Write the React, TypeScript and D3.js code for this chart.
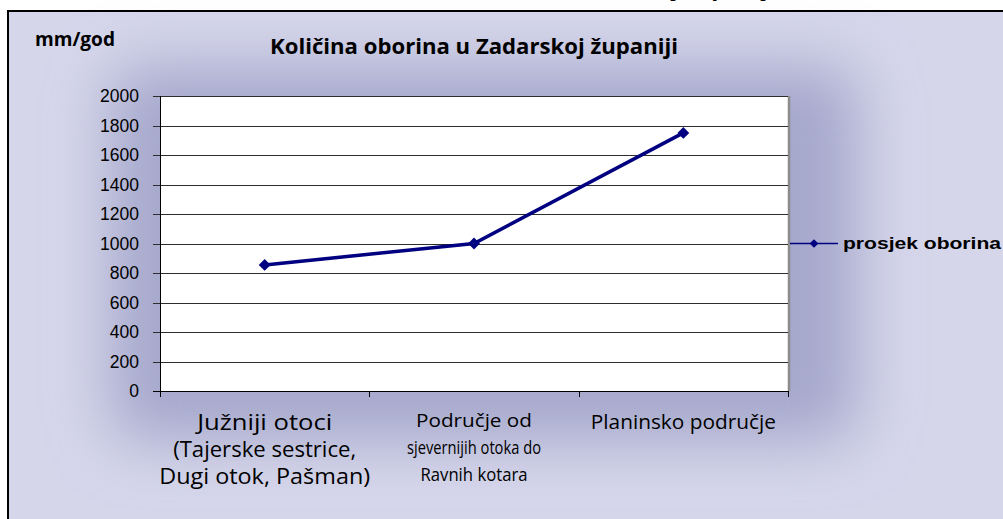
import React from 'react';
import * as d3 from 'd3';

// chart data
const categories = ['south', 'north', 'mountain'];
const categoryLines = [
  ['Južniji otoci', '(Tajerske sestrice,', 'Dugi otok, Pašman)'],
  ['Područje od', 'sjevernijih otoka do', 'Ravnih kotara'],
  ['Planinsko područje'],
];
const values = [855, 1000, 1750];
const yTicks = [0, 200, 400, 600, 800, 1000, 1200, 1400, 1600, 1800, 2000];
const seriesName = 'prosjek oborina';
const title = 'Količina oborina u Zadarskoj županiji';
const unitLabel = 'mm/god';

const W = 1003;
const H = 519;
const plot = {left: 160, right: 788, top: 96, bottom: 391};

// label widths and sizes per column
const labelStyle = [
  {size: 21, widths: [135, 183, 211], dy: 3},
  {size: 19, widths: [116, 134, 107], dy: 0},
  {size: 20, widths: [185], dy: 2},
];

export default function App() {
  const x = d3.scaleBand<string>().domain(categories).range([plot.left, plot.right]);
  const y = d3.scaleLinear().domain([0, 2000]).range([plot.bottom, plot.top]);
  const cx = (i: number) => (x(categories[i]) as number) + x.bandwidth() / 2;

  const line = d3.line<number>()
    .x((d, i) => cx(i))
    .y(d => y(d));

  const diamond = d3.symbol(d3.symbolSquare, 70)();
  const navy = '#000080';
  const calibri = '"Open Sans", sans-serif';

  return (
    <svg width={W} height={H} style={{position: 'absolute', left: 0, top: 0}}>
      <defs>
        <filter id="blur" x="-50%" y="-50%" width="200%" height="200%">
          <feGaussianBlur stdDeviation="30" />
        </filter>
      </defs>
      <rect x={0} y={0} width={W} height={H} fill="#fff" />
      <rect x={8} y={11} width={W} height={H} fill="#d5d6ea" />
      {/* shadow behind the plot */}
      <rect x={plot.left - 50} y={plot.top - 30} width={plot.right - plot.left + 120}
        height={plot.bottom - plot.top + 80} fill="#a6a8cc" filter="url(#blur)" rx={30} />
      <line x1={8} x2={W} y1={11} y2={11} stroke="#000" strokeWidth={2} />
      <line x1={8} x2={8} y1={10} y2={H} stroke="#000" strokeWidth={2} />

      {/* clipped title of the chart above */}
      <text x={776} y={-5} textAnchor="end" fontFamily={calibri} fontWeight="bold" fontSize={23}
        fill="#000">{title}</text>

      <text x={35} y={46} fontFamily={calibri} fontWeight="bold" fontSize={19}
        textLength={80} lengthAdjust="spacingAndGlyphs">{unitLabel}</text>
      <text x={270} y={54} fontFamily={calibri} fontWeight="bold" fontSize={21}
        textLength={408} lengthAdjust="spacingAndGlyphs">{title}</text>

      {/* plot area */}
      <rect x={plot.left} y={plot.top} width={plot.right - plot.left} height={plot.bottom - plot.top}
        fill="#fff" />
      <line x1={plot.right + 1} x2={plot.right + 1} y1={plot.top} y2={plot.bottom}
        stroke="#8c8c8c" strokeWidth={2.5} />
      {yTicks.map(t => (
        <g key={t}>
          <line x1={plot.left - 7} x2={plot.right} y1={Math.round(y(t)) + 0.5} y2={Math.round(y(t)) + 0.5}
            stroke={t === 0 ? '#000' : '#2e2e2e'} strokeWidth={1} />
          <text x={139} y={y(t)} dy="0.36em" textAnchor="end" fontFamily="'Liberation Sans', Arial, sans-serif"
            fontSize={17.5} fill="#000">{t}</text>
        </g>
      ))}
      <line x1={plot.left + 0.5} x2={plot.left + 0.5} y1={plot.top} y2={plot.bottom + 6} stroke="#000" />
      {categories.map((c, i) => (
        <line key={c} x1={Math.round((x(c) as number) + x.bandwidth()) + 0.5}
          x2={Math.round((x(c) as number) + x.bandwidth()) + 0.5}
          y1={plot.bottom} y2={plot.bottom + 6} stroke="#000" />
      ))}

      {/* category labels */}
      {categoryLines.map((lines, i) => (
        <text key={i} fontFamily={calibri} fontSize={labelStyle[i].size} textAnchor="middle" fill="#000">
          {lines.map((l, j) => (
            <tspan key={j} x={cx(i)} y={427 + labelStyle[i].dy + j * 27}
              textLength={labelStyle[i].widths[j]} lengthAdjust="spacingAndGlyphs">{l}</tspan>
          ))}
        </text>
      ))}

      {/* series */}
      <path d={line(values) as string} fill="none" stroke={navy} strokeWidth={3.5} />
      {values.map((v, i) => (
        <path key={i} d={diamond as string} transform={`translate(${cx(i)},${y(v)}) rotate(45)`} fill={navy} />
      ))}

      {/* legend */}
      <line x1={plot.right + 2} x2={838} y1={243.5} y2={243.5} stroke={navy} strokeWidth={1.5} />
      <path d={d3.symbol(d3.symbolSquare, 38)() as string} transform="translate(814,243.5) rotate(45)" fill={navy} />
      <text x={843} y={249} fontFamily="'Liberation Sans', Arial, sans-serif" fontWeight="bold" fontSize={17}
        textLength={158} lengthAdjust="spacingAndGlyphs">{seriesName}</text>
    </svg>
  );
}
